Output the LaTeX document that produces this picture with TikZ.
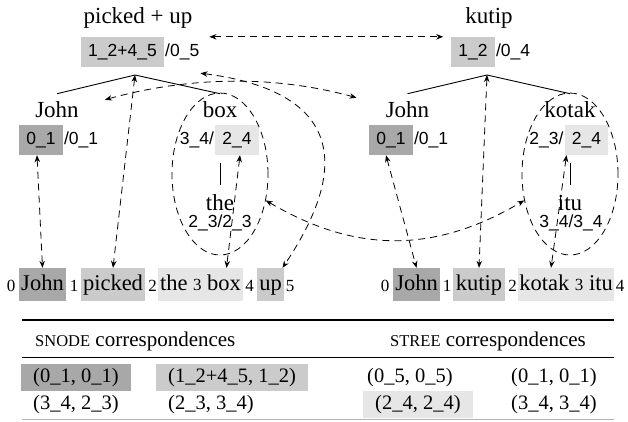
\documentclass[tikz,border=0pt]{standalone}
\usepackage{fontspec}
\setmainfont{Liberation Serif}
\newfontfamily\idxsans{Liberation Sans}
\usetikzlibrary{arrows.meta}
\usetikzlibrary{shapes.geometric}

\definecolor{tokdark}{HTML}{A8A8A8}
\definecolor{tokmid}{HTML}{CBCBCB}
\definecolor{toklight}{HTML}{E6E6E6}

\newcommand{\wordsz}{\fontsize{23}{26}\selectfont}
\newcommand{\leafsz}{\fontsize{22.5}{26}\selectfont}
\newcommand{\idxsz}{\idxsans\fontsize{17.5}{19}\selectfont}
\newcommand{\subsz}{\fontsize{17}{18}\selectfont}
\newcommand{\tabsz}{\fontsize{20.5}{23}\selectfont}
\newcommand{\headsz}{\fontsize{21}{24}\selectfont}
\newcommand{\capsz}{\fontsize{16.5}{18}\selectfont}

\tikzset{
  word/.style={font=\wordsz,inner xsep=2pt,inner ysep=8pt},
  idx/.style={font=\idxsz,minimum height=30pt,inner xsep=7pt,inner ysep=0pt,text height=12.5pt,text depth=3pt},
  rest/.style={idx,anchor=west,inner xsep=1pt},
  lrest/.style={idx,anchor=east,inner xsep=1pt},
  leaf/.style={font=\leafsz,anchor=base,inner xsep=2.5pt,inner ysep=4pt,text height=18pt,text depth=7pt},
  sub/.style={font=\subsz,anchor=base,inner sep=0pt},
  branch/.style={line width=0.9pt},
  corr/.style={dash pattern=on 7pt off 5pt,line width=0.8pt,{Stealth[length=7pt,width=5.5pt]}-{Stealth[length=7pt,width=5.5pt]}},
  span/.style={shape=ellipse,draw,dash pattern=on 7pt off 5pt,line width=0.8pt,minimum width=96pt,minimum height=162pt,inner sep=0pt},
  cell/.style={font=\tabsz,anchor=west,inner xsep=12pt,inner ysep=3.5pt,text height=15pt,text depth=5pt},
}

\begin{document}
\begin{tikzpicture}[x=1pt,y=-1pt]
  \useasboundingbox (0,0) rectangle (628,421);

  % english tree
  \node[word] (lpu) at (138,18) {picked + up};
  \node[idx,fill=tokmid] (lpuidx) at (122.5,52) {1\_2+4\_5};
  \node[rest] (lpurest) at (lpuidx.east) {/0\_5};
  \coordinate (lapex) at (135,75);
  \node[word] (ljohn) at (57,110) {John};
  \node[idx,fill=tokdark] (ljohnidx) at (41,140) {0\_1};
  \node[rest] (ljohnrest) at (ljohnidx.east) {/0\_1};
  \node[word] (lbox) at (220,110) {box};
  \node[idx,fill=toklight] (lboxidx) at (237,140) {2\_4};
  \node[lrest] (lboxrest) at (lboxidx.west) {3\_4/};
  \node[word] (lthe) at (220,203) {the};
  \node[idx] (ltheidx) at (220,223) {2\_3/2\_3};
  \draw[branch] (lapex) -- (ljohn.north);
  \draw[branch] (lapex) -- (lbox.north);
  \draw[branch,shorten <=8pt,shorten >=2pt] (lthe.north |- lboxidx.south) -- (lthe.north);
  \node[span] (lspan) at (220,174) {};

  % english string
  \node[sub] (ls0) at (11,291) {0};
  \node[leaf,fill=tokdark] (lw1) at (42.5,290) {John};
  \node[sub] (ls1) at (74,291) {1};
  \node[leaf,fill=tokmid] (lw2) at (113,290) {picked};
  \node[sub] (ls2) at (152.5,291) {2};
  \node[leaf,fill=toklight] (lw3) at (200.5,290) {the {\subsz 3} box};
  \node[sub] (ls4) at (249.5,291) {4};
  \node[leaf,fill=tokmid] (lw5) at (270.5,290) {up};
  \node[sub] (ls5) at (290,291) {5};

  % malay tree
  \node[word] (rpu) at (489,18) {kutip};
  \node[idx,fill=tokmid] (rpuidx) at (473,52) {1\_2};
  \node[rest] (rpurest) at (rpuidx.east) {/0\_4};
  \coordinate (rapex) at (487,75);
  \node[word] (rjohn) at (407.5,110) {John};
  \node[idx,fill=tokdark] (rjohnidx) at (391,140) {0\_1};
  \node[rest] (rjohnrest) at (rjohnidx.east) {/0\_1};
  \node[word] (rkotak) at (570,110) {kotak};
  \node[idx,fill=toklight] (rkotakidx) at (586.5,140) {2\_4};
  \node[lrest] (rkotakrest) at (rkotakidx.west) {2\_3/};
  \node[word] (ritu) at (570,203) {itu};
  \node[idx] (rituidx) at (571,223) {3\_4/3\_4};
  \draw[branch] (rapex) -- (rjohn.north);
  \draw[branch] (rapex) -- (rkotak.north);
  \draw[branch,shorten <=8pt,shorten >=2pt] (ritu.north |- rkotakidx.south) -- (ritu.north);
  \node[span] (rspan) at (570,174) {};

  % malay string
  \node[sub] (rs0) at (385,291) {0};
  \node[leaf,fill=tokdark] (rw1) at (416.5,290) {John};
  \node[sub] (rs1) at (447,291) {1};
  \node[leaf,fill=tokmid] (rw2) at (479,290) {kutip};
  \node[sub] (rs2) at (512.5,291) {2};
  \node[leaf,fill=toklight,inner xsep=1pt] (rw3) at (566,290) {kotak {\subsz 3} itu};
  \node[sub] (rs4) at (620,291) {4};

  % tree <-> string links
  \draw[corr] ([xshift=-4pt]ljohnidx.south) -- (lw1.north);
  \draw[corr] (lapex) -- (lw2.north);
  \draw[corr] ([xshift=3pt]lboxidx.south) -- ([xshift=26pt]lw3.north);
  \draw[corr] ([yshift=-6pt]lpurest.south east) .. controls +(118,15) and +(82,-122) .. ([xshift=12pt]lw5.north);
  \draw[corr] ([xshift=-5pt]rjohnidx.south) -- (rw1.north);
  \draw[corr] (rapex) -- (rw2.north);
  \draw[corr] ([xshift=-20pt]rkotakidx.south) -- ([xshift=-15pt]rw3.north);

  % tree <-> tree links
  \draw[corr] ([xshift=9pt]lpurest.north east) -- ([xshift=-8pt]rpuidx.north west);
  \draw[corr] ([xshift=24pt,yshift=-6pt]ljohn.north east) .. controls +(84,-23) and +(-84,-23) .. ([xshift=-27pt,yshift=-4pt]rjohn.north west);
  \draw[corr] (lspan.-30) .. controls +(90,53) and +(-90,53) .. (rspan.-150);

  % correspondence table
  \draw[line width=1.4pt] (22,320) -- (614,320);
  \node[font=\headsz,anchor=west,inner sep=0pt] (snode) at (35,341) {{\capsz SNODE} correspondences};
  \node[font=\headsz,anchor=west,inner sep=0pt] (stree) at (390,341) {{\capsz STREE} correspondences};
  \draw[line width=0.9pt] (22,357) -- (614,357);
  \node[cell,fill=tokdark] (c11) at (21,377.5) {(0\_1, 0\_1)};
  \node[cell,fill=tokmid] (c12) at (156,377.5) {(1\_2+4\_5, 1\_2)};
  \node[cell] (c13) at (355,377.5) {(0\_5, 0\_5)};
  \node[cell] (c14) at (499,377.5) {(0\_1, 0\_1)};
  \node[cell] (c21) at (21,404.5) {(3\_4, 2\_3)};
  \node[cell] (c22) at (156,404.5) {(2\_3, 3\_4)};
  \node[cell,fill=toklight] (c23) at (363,404.5) {(2\_4, 2\_4)};
  \node[cell] (c24) at (499,404.5) {(3\_4, 3\_4)};
  \draw[line width=0.8pt,black!30] (22,419) -- (614,419);
\end{tikzpicture}
\end{document}
